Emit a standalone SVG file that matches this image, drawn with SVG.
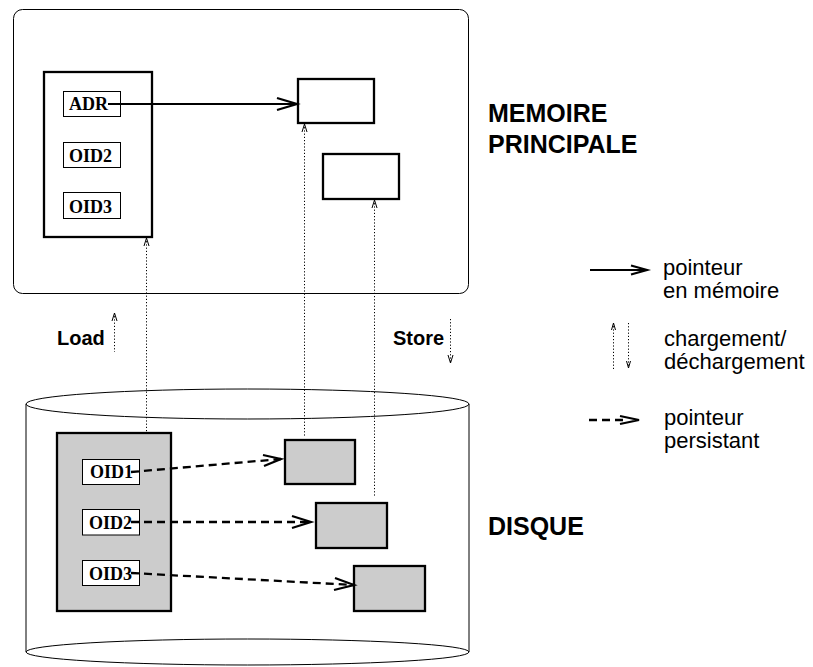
<svg xmlns="http://www.w3.org/2000/svg" width="813" height="667" viewBox="0 0 813 667">
<style>
.thin{fill:none;stroke:#000;stroke-width:1}
.box{fill:#fff;stroke:#000;stroke-width:2.3}
.gbox{fill:#cccccc;stroke:#000;stroke-width:2.3}
.wbox{fill:#fff;stroke:#000;stroke-width:1}
.solid{fill:none;stroke:#000;stroke-width:2.2}
.dash{fill:none;stroke:#000;stroke-width:2.3;stroke-dasharray:8 5}
.dot{fill:none;stroke:#000;stroke-width:1;stroke-dasharray:1.2 2}
.head{fill:none;stroke:#000;stroke-width:2.2;stroke-linejoin:miter}
.shead{fill:none;stroke:#000;stroke-width:1}
.tb{font-family:"Liberation Serif",serif;font-weight:bold;font-size:18px}
.hb{font-family:"Liberation Sans",sans-serif;font-weight:bold}
.leg{font-family:"Liberation Sans",sans-serif;font-size:22px}
</style>
<rect width="813" height="667" fill="#fff"/>

<g id="memoire">
<rect x="13.5" y="9.5" width="455" height="284" rx="9" class="thin"/>
<text class="hb" x="488" y="122" font-size="25">MEMOIRE</text>
<text class="hb" x="488" y="153" font-size="25">PRINCIPALE</text>
</g>

<g id="mem-object">
<rect x="44" y="72" width="108" height="165" class="box"/>
<rect x="63.5" y="91.5" width="57" height="25" class="wbox"/>
<text class="tb" x="69" y="110">ADR</text>
<rect x="63.5" y="142.5" width="57" height="25" class="wbox"/>
<text class="tb" x="69" y="161.5">OID2</text>
<rect x="63.5" y="192.5" width="57" height="26" class="wbox"/>
<text class="tb" x="69" y="212.5">OID3</text>
</g>

<g id="mem-box1"><rect x="298" y="79" width="76" height="44" class="box"/></g>
<g id="mem-box2"><rect x="323" y="154" width="76" height="45" class="box"/></g>

<g id="disque">
<path d="M26 404 V652 M469 404 V652" class="thin"/>
<ellipse cx="247.5" cy="652" rx="221.5" ry="13" class="thin"/>
<ellipse cx="247.5" cy="404" rx="221.5" ry="15" class="thin"/>
<text class="hb" x="488" y="535" font-size="25">DISQUE</text>
</g>

<g id="disk-object">
<rect x="57" y="433" width="114" height="178" class="gbox"/>
<rect x="82.5" y="459.5" width="57" height="25" class="wbox"/>
<text class="tb" x="90" y="477.5">OID1</text>
<rect x="82.5" y="509.5" width="57" height="25.5" class="wbox"/>
<text class="tb" x="89" y="528.5">OID2</text>
<rect x="82.5" y="560.5" width="57" height="25" class="wbox"/>
<text class="tb" x="89" y="579.5">OID3</text>
</g>

<g id="disk-box1"><rect x="285" y="440" width="70" height="44" class="gbox"/></g>
<g id="disk-box2"><rect x="316" y="503" width="71" height="45" class="gbox"/></g>
<g id="disk-box3"><rect x="354" y="566" width="71" height="45" class="gbox"/></g>

<g id="labels">
<text class="hb" x="57" y="345" font-size="20">Load</text>
<text class="hb" x="393" y="345" font-size="20">Store</text>
</g>

<g id="connectors">
<path d="M108 104 H297" class="solid"/>
<path d="M277 98 L297 104 L277 110" class="head"/>
<path d="M146.5 238 V432" class="dot"/>
<path d="M144 246 L146.5 238 L149 246" class="shead"/>
<path d="M304.5 124 V437" class="dot"/>
<path d="M302 132 L304.5 124 L307 132" class="shead"/>
<path d="M374.5 200 V497" class="dot"/>
<path d="M372 208 L374.5 200 L377 208" class="shead"/>
<path d="M114.5 313 V352" class="dot"/>
<path d="M112 321 L114.5 313 L117 321" class="shead"/>
<path d="M450.5 319 V363" class="dot"/>
<path d="M448 355 L450.5 363 L453 355" class="shead"/>
<path d="M131 472 L281 459" class="dash"/>
<path d="M263 455 L281 459 L264 466" class="head"/>
<path d="M131 522 H311" class="dash"/>
<path d="M292 516 L311 522 L292 528" class="head"/>
<path d="M131 573 L354 585" class="dash"/>
<path d="M335 578 L354 585 L334 590" class="head"/>
</g>

<g id="legend">
<path d="M590 270 H646" class="solid"/>
<path d="M631 265.5 L647 270 L631 274.5" class="head"/>
<text class="leg" x="663" y="275">pointeur</text>
<text class="leg" x="663" y="298">en mémoire</text>
<path d="M613.5 323 V370" class="dot"/>
<path d="M611.5 330 L613.5 323 L615.5 330" class="shead"/>
<path d="M628.5 323 V368" class="dot"/>
<path d="M626.5 361 L628.5 368 L630.5 361" class="shead"/>
<text class="leg" x="664" y="346">chargement/</text>
<text class="leg" x="664" y="369">déchargement</text>
<path d="M589 420 H628" class="dash"/>
<path d="M620 416 L639 420 L620 424" class="head"/>
<text class="leg" x="664" y="425">pointeur</text>
<text class="leg" x="664" y="448">persistant</text>
</g>
</svg>
